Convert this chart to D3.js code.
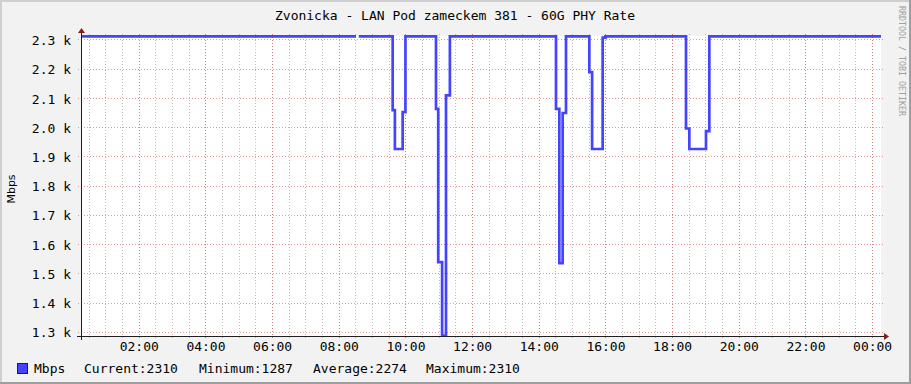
<!DOCTYPE html>
<html>
<head>
<meta charset="utf-8">
<script src="https://cdn.jsdelivr.net/npm/d3@7"></script>
<style>
body{margin:0;background:#f2f2f2}
svg{display:block}
text{font-family:"DejaVu Sans Mono",monospace;fill:#000}
</style>
</head>
<body>
<div id="chart"></div>
<script>
// chart data
var title = "Zvonicka - LAN Pod zameckem 381 - 60G PHY Rate";
var unitLabel = "Mbps";
// step series: value holds from this time until the next one (null = no data)
var stepTimes  = ["00:16","08:31","08:32","08:36","09:37","09:41","09:55","10:00",
                  "10:55","10:59","11:06","11:13","11:20",
                  "14:31","14:37","14:43","14:49","15:31","15:36","15:55","16:00",
                  "18:25","18:31","19:01","19:07","24:16"];
var stepValues = [2310,2310,null,2310,2058,1925,2051,2310,
                  2062,1538,1287,2108,2310,
                  2062,1535,2048,2310,2188,1925,2306,2310,
                  1995,1925,1986,2310,2310];
var yTicks = [1300,1400,1500,1600,1700,1800,1900,2000,2100,2200,2300];
var xTickLabels = ["02:00","04:00","06:00","08:00","10:00","12:00","14:00","16:00","18:00","20:00","22:00","24:00"];
var legendLabels = ["Current:2310","Minimum:1287","Average:2274","Maximum:2310"];
var timeStart = "00:16", timeEnd = "24:16";
var yMin = 1285.6, yMax = 2311.3;

var W = 911, H = 384;
var plot = {left:81, right:881, top:36, bottom:336};
var lineColor = "#4444ff";

var day = new Date(2024, 0, 1);
var toDate = function(s){
	var p = s.split(":");
	return new Date(day.getTime() + (+p[0]*60 + +p[1])*60000);
};

var svg = d3.select("#chart").append("svg")
	.attr("width", W).attr("height", H);

// background with rrdtool style shading
svg.append("rect").attr("width", W).attr("height", H).attr("fill", "#f2f2f2");
svg.append("rect").attr("x",0).attr("y",0).attr("width",W).attr("height",2).attr("fill","#cfcfcf");
svg.append("rect").attr("x",0).attr("y",0).attr("width",2).attr("height",H).attr("fill","#cfcfcf");
svg.append("rect").attr("x",W-2).attr("y",0).attr("width",2).attr("height",H).attr("fill","#9e9e9e");
svg.append("rect").attr("x",0).attr("y",H-2).attr("width",W).attr("height",2).attr("fill","#9e9e9e");

svg.append("rect")
	.attr("x", plot.left).attr("y", plot.top)
	.attr("width", plot.right - plot.left).attr("height", plot.bottom - plot.top)
	.attr("fill", "#fff");

var x = d3.scaleTime()
	.domain([toDate(timeStart), toDate(timeEnd)])
	.range([plot.left, plot.right]);
var y = d3.scaleLinear()
	.domain([yMin, yMax])
	.range([plot.bottom, plot.top]);

// minor vertical grid every 30 minutes
var minorTimes = d3.timeMinute.every(30).range(x.domain()[0], x.domain()[1]);
svg.append("g").selectAll("line").data(minorTimes).enter().append("line")
	.attr("x1", function(d){return Math.round(x(d)) + 0.5;})
	.attr("x2", function(d){return Math.round(x(d)) + 0.5;})
	.attr("y1", plot.top - 2).attr("y2", plot.bottom + 4)
	.attr("stroke", "rgba(143,143,143,0.6)")
	.attr("stroke-dasharray", "1,2");

// major vertical grid every 2 hours
var majorTimes = xTickLabels.map(toDate);
svg.append("g").selectAll("line").data(majorTimes).enter().append("line")
	.attr("x1", function(d){return Math.round(x(d)) + 0.5;})
	.attr("x2", function(d){return Math.round(x(d)) + 0.5;})
	.attr("y1", plot.top - 2).attr("y2", plot.bottom + 4)
	.attr("stroke", "rgba(222,79,79,0.6)")
	.attr("stroke-dasharray", "1,2");

// horizontal grid
svg.append("g").selectAll("line").data(yTicks).enter().append("line")
	.attr("x1", plot.left - 3).attr("x2", plot.right + 2)
	.attr("y1", function(d){return Math.round(y(d)) + 0.5;})
	.attr("y2", function(d){return Math.round(y(d)) + 0.5;})
	.attr("stroke", "rgba(222,79,79,0.6)")
	.attr("stroke-dasharray", "1,2");

// axis labels
var yAxis = d3.axisLeft(y).tickValues(yTicks).tickSize(0)
	.tickFormat(function(d){return (d/1000).toFixed(1) + " k";});
var gy = svg.append("g").attr("transform", "translate(" + plot.left + ",0)").call(yAxis);
gy.select(".domain").remove();
gy.selectAll("text").attr("x", -10).attr("dy", "0.4em")
	.style("font-family", "'DejaVu Sans Mono',monospace").style("font-size", "13px");

var xAxis = d3.axisBottom(x).tickValues(majorTimes).tickSize(0)
	.tickFormat(function(d, i){return xTickLabels[i] === "24:00" ? "00:00" : xTickLabels[i];});
var gx = svg.append("g").attr("transform", "translate(0," + plot.bottom + ")").call(xAxis);
gx.select(".domain").remove();
gx.selectAll("text").attr("y", 15).attr("dy", null)
	.style("font-family", "'DejaVu Sans Mono',monospace").style("font-size", "13px");

// data line
var points = stepTimes.map(function(t, i){return {t: toDate(t), v: stepValues[i]};});
var line = d3.line()
	.defined(function(d){return d.v != null;})
	.x(function(d){return x(d.t);})
	.y(function(d){return y(d.v);})
	.curve(d3.curveStepAfter);
svg.append("path").datum(points)
	.attr("d", line)
	.attr("fill", "none")
	.attr("stroke", lineColor)
	.attr("stroke-width", 2.7);

// axis lines and arrows
svg.append("line").attr("x1", plot.left - 4).attr("x2", plot.right + 4)
	.attr("y1", plot.bottom + 0.5).attr("y2", plot.bottom + 0.5)
	.attr("stroke", "#1f1f1f");
svg.append("line").attr("x1", plot.left + 0.5).attr("x2", plot.left + 0.5)
	.attr("y1", plot.top - 4).attr("y2", plot.bottom + 4)
	.attr("stroke", "#1f1f1f");
svg.append("path")
	.attr("d", "M" + (plot.right + 3) + "," + (plot.bottom - 3) + "L" + (plot.right + 8) + "," + (plot.bottom + 0.5) + "L" + (plot.right + 3) + "," + (plot.bottom + 4) + "Z")
	.attr("fill", "#801f1f");
svg.append("path")
	.attr("d", "M" + (plot.left - 3) + "," + (plot.top - 3) + "L" + (plot.left + 0.5) + "," + (plot.top - 8) + "L" + (plot.left + 4) + "," + (plot.top - 3) + "Z")
	.attr("fill", "#801f1f");

// title
svg.append("text").attr("x", 455).attr("y", 20)
	.attr("text-anchor", "middle").style("font-size", "13px").text(title);

// unit label
svg.append("text").attr("transform", "translate(15,189) rotate(-90)")
	.attr("text-anchor", "middle")
	.style("font-family", "'DejaVu Sans',sans-serif").style("font-size", "11px")
	.text(unitLabel);

// watermark
svg.append("text").attr("transform", "translate(899,6) rotate(90)")
	.style("font-size", "8.3px").style("fill", "#a0a0a0")
	.text("RRDTOOL / TOBI OETIKER");

// legend
svg.append("rect").attr("x", 17.5).attr("y", 363.5).attr("width", 10).attr("height", 10)
	.attr("fill", lineColor).attr("stroke", "#222");
svg.append("text").attr("x", 34).attr("y", 373).style("font-size", "13px").text(unitLabel);
var legendX = [84, 199, 313, 426];
svg.append("g").selectAll("text").data(legendLabels).enter().append("text")
	.attr("x", function(d, i){return legendX[i];})
	.attr("y", 373)
	.style("font-size", "13px")
	.text(function(d){return d;});
</script>
</body>
</html>
